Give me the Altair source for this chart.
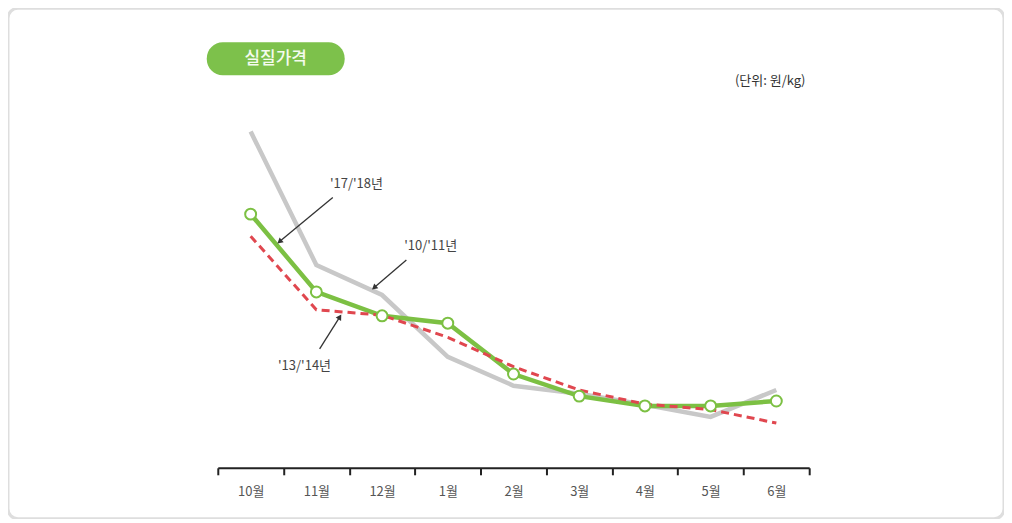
import altair as alt
import pandas as pd

# ---- data (y in 원/kg, approximate) ----
months = ["10월", "11월", "12월", "1월", "2월", "3월", "4월", "5월", "6월"]
s1718 = [2070, 1435, 1240, 1180, 765, 585, 505, 505, 545]   # '17/'18년 (green)
s1011 = [2745, 1655, 1410, 905, 670, 605, 515, 415, 635]    # '10/'11년 (gray)
s1314 = [1890, 1290, 1245, 1065, 825, 635, 520, 475, 365]   # '13/'14년 (red dashed)

# annotation labels (x in month index units, y in value units)
ann_text = ["'17/'18년", "'10/'11년", "'13/'14년"]
ann_tx = [1.61, 2.74, 0.82]
ann_ty = [2315, 1810, 830]
arr_x0 = [1.25, 2.37, 1.05]
arr_y0 = [2205, 1695, 970]
arr_x1 = [0.45, 1.89, 1.35]
arr_y1 = [1850, 1475, 1225]
arr_angle = [230, 230, 32]

FONT = "Noto Sans CJK KR"
W, H = 997, 511
X_RANGE = [210, 802]
Y_RANGE = [460, 92]
Y_DOMAIN = [0, 3000]

rows = []
for name, vals in [("1011", s1011), ("1718", s1718), ("1314", s1314)]:
    for i, (m, v) in enumerate(zip(months, vals)):
        rows.append({"month": m, "idx": i, "value": v, "series": name})
df = pd.DataFrame(rows)

ann = pd.DataFrame({"label": ann_text, "tx": ann_tx, "ty": ann_ty,
                    "x0": arr_x0, "y0": arr_y0, "x1": arr_x1, "y1": arr_y1,
                    "angle": arr_angle})

xb = alt.X("month:N", sort=months,
           scale=alt.Scale(range=X_RANGE, paddingInner=0, paddingOuter=0),
           axis=alt.Axis(title=None, labelAngle=0, tickBand="extent", domainColor="#222",
                         domainWidth=2, tickColor="#222", tickWidth=2, tickSize=7,
                         labelFont=FONT, labelFontSize=13, labelColor="#555",
                         labelPadding=11, offset=-51, grid=False))
yq = alt.Y("value:Q", scale=alt.Scale(domain=Y_DOMAIN, range=Y_RANGE, nice=False, zero=False),
           axis=None)

base = alt.Chart(df)
gray = base.transform_filter(alt.datum.series == "1011").mark_line(
    color="#c8c8c8", strokeWidth=4.5).encode(x=xb, y=yq)
green = base.transform_filter(alt.datum.series == "1718").mark_line(
    color="#7cc043", strokeWidth=4.5).encode(x=alt.X("month:N", sort=months), y="value:Q")
red = base.transform_filter(alt.datum.series == "1314").mark_line(
    color="#e0474f", strokeWidth=3, strokeDash=[8, 5]).encode(
    x=alt.X("month:N", sort=months), y="value:Q")
pts = base.transform_filter(alt.datum.series == "1718").mark_point(
    filled=True, fill="white", stroke="#7cc043", strokeWidth=2, size=120, opacity=1).encode(
    x=alt.X("month:N", sort=months), y="value:Q")

data_layer = alt.layer(gray, green, red, pts)

xq_scale = alt.Scale(domain=[-0.5, 8.5], range=X_RANGE, nice=False, zero=False)
abase = alt.Chart(ann)
rules = abase.mark_rule(color="#333", strokeWidth=1.3).encode(
    x=alt.X("x0:Q", scale=xq_scale, axis=None), y=alt.Y("y0:Q"),
    x2="x1:Q", y2="y1:Q")
heads = abase.mark_point(shape="triangle", filled=True, color="#333", size=40, opacity=1).encode(
    x=alt.X("x1:Q", scale=xq_scale, axis=None), y=alt.Y("y1:Q"),
    angle=alt.Angle("angle:Q", scale=None))
texts = abase.mark_text(font=FONT, fontSize=13, color="#444").encode(
    x=alt.X("tx:Q", scale=xq_scale, axis=None), y=alt.Y("ty:Q"), text="label:N")
ann_layer = alt.layer(rules, heads, texts)

deco = pd.DataFrame({"title": ["실질가격"], "unit": ["(단위: 원/kg)"]})
badge = alt.Chart(deco).mark_rect(fill="#7dc14b", cornerRadius=16).encode(
    x=alt.value(199), x2=alt.value(337), y=alt.value(34), y2=alt.value(67))
badge_text = alt.Chart(deco).mark_text(font=FONT, fontSize=17, fontWeight=500,
                                       color="#f4fbee").encode(
    x=alt.value(268), y=alt.value(51), text="title:N")
unit_text = alt.Chart(deco).mark_text(font=FONT, fontSize=13, color="#333").encode(
    x=alt.value(763), y=alt.value(73), text="unit:N")

chart = alt.layer(data_layer, ann_layer, badge, badge_text, unit_text).resolve_scale(
    x="independent"
).properties(
    width=W, height=H, padding=0, autosize=alt.AutoSizeParams(type="none")
).configure_view(
    stroke="#dedede", strokeWidth=3, cornerRadius=10
)

chart.save("out.html", embed_options={"renderer": "svg", "actions": False})
